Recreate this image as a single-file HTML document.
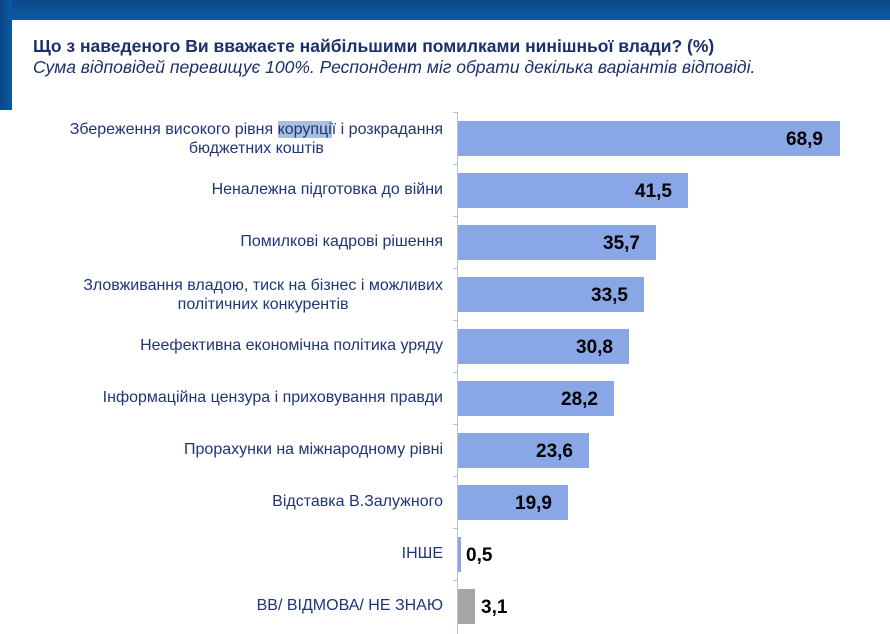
<!DOCTYPE html>
<html><head><meta charset="utf-8"><style>
body{margin:0;width:890px;height:634px;background:#fff;position:relative;overflow:hidden;font-family:"Liberation Sans",sans-serif}
.top{position:absolute;left:0;top:0;width:890px;height:20px;background:linear-gradient(#0a4a8c,#0b5aa3)}
.side{position:absolute;left:0;top:0;width:12px;height:110px;background:linear-gradient(90deg,#0b4585,#0a5aa5)}
.t1{position:absolute;left:33px;top:36px;font-size:17.5px;font-weight:bold;color:#1c2f6b;transform:scaleX(1.0);transform-origin:left;white-space:nowrap}
.t2{position:absolute;left:33px;top:57px;font-size:17.5px;font-style:italic;color:#1c2f6b;transform:scaleX(1.0);transform-origin:left;white-space:nowrap}
.lab{position:absolute;right:447px;text-align:center;font-size:16px;color:#1f3578;line-height:19px;white-space:nowrap}
.bar{position:absolute;left:458px;height:35px;background:#89a6e6}
.val{position:absolute;font-size:19px;font-weight:bold;color:#000;line-height:20px}
.axis{position:absolute;left:457px;top:112px;width:1px;height:522px;background:#b8bfd0}
.tick{position:absolute;left:453px;width:4px;height:1px;background:#b8bfd0}
.hl{background:#a7c1dc}
</style></head><body>
<div class="top"></div><div class="side"></div>
<div class="t1">Що з наведеного Ви вважаєте найбільшими помилками нинішньої влади? (%)</div>
<div class="t2">Сума відповідей перевищує 100%. Респондент міг обрати декілька варіантів відповіді.</div>
<div class="axis"></div>
<div class="tick" style="top:112px"></div><div class="tick" style="top:164px"></div><div class="tick" style="top:216px"></div><div class="tick" style="top:268px"></div><div class="tick" style="top:320px"></div><div class="tick" style="top:372px"></div><div class="tick" style="top:424px"></div><div class="tick" style="top:476px"></div><div class="tick" style="top:528px"></div><div class="tick" style="top:580px"></div>

<div class="lab" style="top:120px">Збереження високого рівня <span class="hl">корупці</span>ї і розкрадання<br>бюджетних коштів</div>
<div class="bar" style="top:121px;width:382px"></div><div class="val" style="top:130px;left:786px">68,9</div>

<div class="lab" style="top:180px">Неналежна підготовка до війни</div>
<div class="bar" style="top:173px;width:230px"></div><div class="val" style="top:182px;left:635px">41,5</div>

<div class="lab" style="top:232px">Помилкові кадрові рішення</div>
<div class="bar" style="top:225px;width:198px"></div><div class="val" style="top:234px;left:603px">35,7</div>

<div class="lab" style="top:276px">Зловживання владою, тиск на бізнес і можливих<br>політичних конкурентів</div>
<div class="bar" style="top:277px;width:186px"></div><div class="val" style="top:286px;left:591px">33,5</div>

<div class="lab" style="top:336px">Неефективна економічна політика уряду</div>
<div class="bar" style="top:329px;width:171px"></div><div class="val" style="top:338px;left:576px">30,8</div>

<div class="lab" style="top:388px">Інформаційна цензура і приховування правди</div>
<div class="bar" style="top:381px;width:156px"></div><div class="val" style="top:390px;left:561px">28,2</div>

<div class="lab" style="top:440px">Прорахунки на міжнародному рівні</div>
<div class="bar" style="top:433px;width:131px"></div><div class="val" style="top:442px;left:536px">23,6</div>

<div class="lab" style="top:492px">Відставка В.Залужного</div>
<div class="bar" style="top:485px;width:110px"></div><div class="val" style="top:494px;left:515px">19,9</div>

<div class="lab" style="top:544px">ІНШЕ</div>
<div class="bar" style="top:537px;width:3px"></div><div class="val" style="top:546px;left:466px">0,5</div>

<div class="lab" style="top:596px">ВВ/ ВІДМОВА/ НЕ ЗНАЮ</div>
<div class="bar" style="top:589px;width:17px;background:#a6a6a6"></div><div class="val" style="top:598px;left:481px">3,1</div>
</body></html>
